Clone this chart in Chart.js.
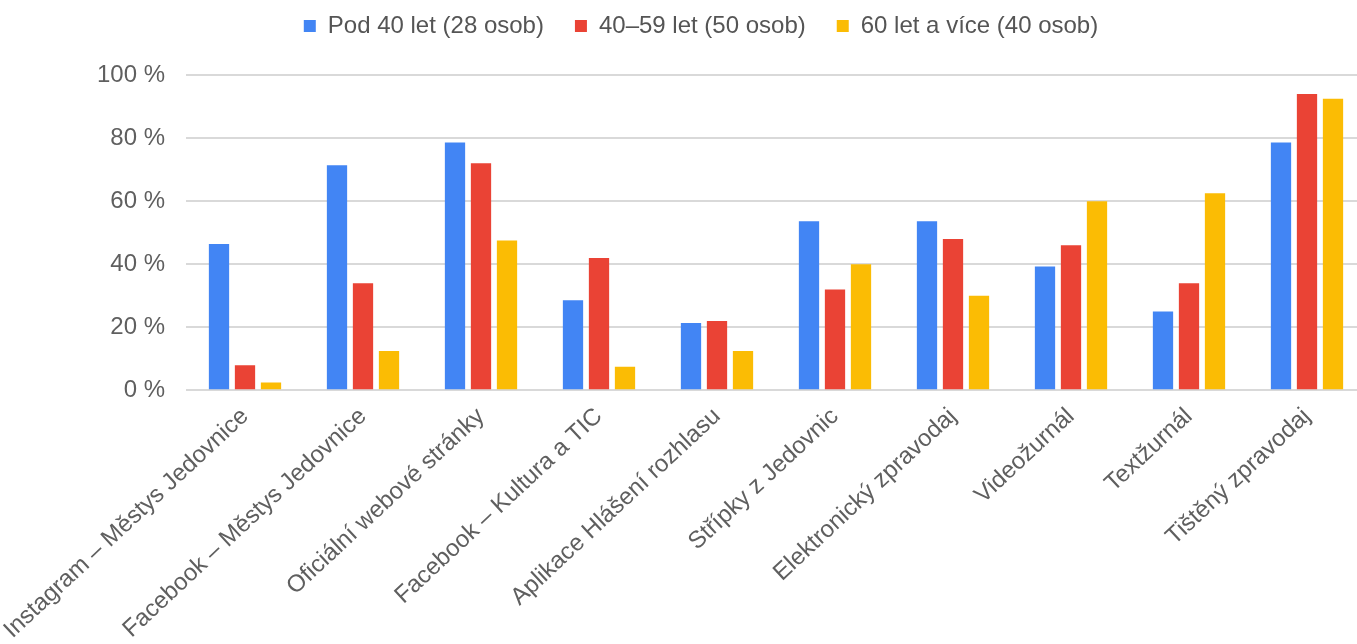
<!DOCTYPE html>
<html>
<head>
<meta charset="utf-8">
<script src="https://cdn.jsdelivr.net/npm/chart.js@4"></script>
<style>
html,body{margin:0;padding:0;background:#fff;overflow:hidden;}
#wrap{width:1366px;height:644px;position:relative;}
</style>
</head>
<body>
<div id="wrap"><canvas id="c"></canvas></div>
<script>
const categories = [
  "Instagram – Městys Jedovnice",
  "Facebook – Městys Jedovnice",
  "Oficiální webové stránky",
  "Facebook – Kultura a TIC",
  "Aplikace Hlášení rozhlasu",
  "Střípky z Jedovnic",
  "Elektronický zpravodaj",
  "Videožurnál",
  "Textžurnál",
  "Tištěný zpravodaj"
];
const seriesNames = ["Pod 40 let (28 osob)", "40–59 let (50 osob)", "60 let a více (40 osob)"];
const under40 = [46.4, 71.4, 78.6, 28.6, 21.4, 53.6, 53.6, 39.3, 25.0, 78.6];
const age40to59 = [8.0, 34.0, 72.0, 42.0, 22.0, 32.0, 48.0, 46.0, 34.0, 94.0];
const age60plus = [2.5, 12.5, 47.5, 7.5, 12.5, 40.0, 30.0, 60.0, 62.5, 92.5];
const yTicks = [0, 20, 40, 60, 80, 100];

const colors = ["#4285F4", "#EA4335", "#FBBC04"];
const FONT = "'Liberation Sans', Arial, sans-serif";

const legendSpacing = {
  id: 'legendSpacing',
  beforeInit(chart) {
    const orig = chart.legend.fit;
    chart.legend.fit = function () {
      orig.bind(chart.legend)();
      this.height += 27;
    };
  }
};

new Chart(document.getElementById('c'), {
  type: 'bar',
  data: {
    labels: categories,
    datasets: [
      { label: seriesNames[0], data: under40, backgroundColor: colors[0] },
      { label: seriesNames[1], data: age40to59, backgroundColor: colors[1] },
      { label: seriesNames[2], data: age60plus, backgroundColor: colors[2] }
    ]
  },
  options: {
    responsive: true,
    maintainAspectRatio: false,
    animation: false,
    devicePixelRatio: 1,
    layout: { padding: { top: -17, right: 0, left: 36, bottom: -4.5 } },
    datasets: { bar: { categoryPercentage: 0.661, barPercentage: 0.78 } },
    plugins: {
      tooltip: { enabled: false },
      legend: {
        position: 'top',
        labels: {
          boxWidth: 12,
          boxHeight: 12,
          padding: 31,
          color: '#555555',
          font: { family: FONT, size: 24 }
        }
      }
    },
    scales: {
      x: {
        grid: { display: false },
        border: { display: false },
        afterFit(s) { s.paddingLeft = 0; s.paddingRight = 0; },
        ticks: {
          color: '#5f5f5f',
          font: { family: FONT, size: 24 },
          minRotation: 43,
          maxRotation: 43,
          autoSkip: false,
          padding: 4
        }
      },
      y: {
        min: 0,
        max: 100,
        afterBuildTicks(s) { s.ticks = yTicks.map(v => ({ value: v })); },
        afterFit(s) { s.width = 150; },
        grid: { color: '#d9d9d9', lineWidth: 2, drawTicks: false },
        border: { display: false },
        ticks: {
          padding: 21,
          color: '#5f5f5f',
          font: { family: FONT, size: 24 },
          callback: v => v + ' %'
        }
      }
    }
  },
  plugins: [legendSpacing]
});
</script>
</body>
</html>
